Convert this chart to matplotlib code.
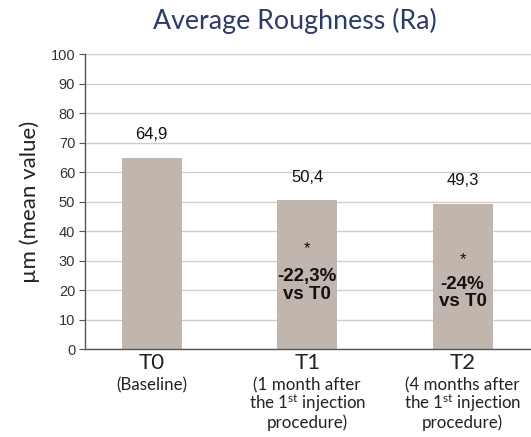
import matplotlib
matplotlib.use("Agg")
import matplotlib.pyplot as plt

categories = ["T0", "T1", "T2"]
subtitles = [
    "(Baseline)",
    "(1 month after\nthe 1$^{\\mathrm{st}}$ injection\nprocedure)",
    "(4 months after\nthe 1$^{\\mathrm{st}}$ injection\nprocedure)",
]
values = [64.9, 50.4, 49.3]
value_labels = ["64,9", "50,4", "49,3"]
change_labels = ["", "-22,3%\nvs T0", "-24%\nvs T0"]
change_y = [None, 21.5, 19.0]
star_y = [None, 34.0, 30.5]

BAR_COLOR = "#c0b6ad"
TITLE_COLOR = "#2c3a6e"

plt.rcParams["mathtext.fontset"] = "custom"
plt.rcParams["mathtext.rm"] = "Lato"
plt.rcParams["mathtext.it"] = "Lato:italic"
plt.rcParams["mathtext.bf"] = "Lato:bold"

fig = plt.figure(figsize=(5.31, 4.37), dpi=100)
ax = fig.add_axes([0.160, 0.201, 0.84, 0.675])

x = list(range(len(categories)))
ax.bar(x, values, width=0.386, color=BAR_COLOR, zorder=2)

ax.set_ylim(0, 100)
ax.set_xlim(-0.43, 2.44)
ax.set_yticks(range(0, 101, 10))
ax.yaxis.grid(True, color="#cfcfcf", linewidth=1.0, zorder=0)
ax.set_axisbelow(True)
for side in ("top", "right"):
    ax.spines[side].set_visible(False)
ax.spines["left"].set_color("#555555")
ax.spines["bottom"].set_color("#555555")
ax.spines["left"].set_linewidth(1.0)
ax.spines["bottom"].set_linewidth(1.0)
ax.tick_params(axis="y", length=4, color="#555555", labelsize=10.5,
               labelcolor="#333333", pad=3)
for lbl in ax.get_yticklabels():
    lbl.set_family("Liberation Sans")

ax.set_xticks(x)
ax.set_xticklabels(categories, fontsize=16, family="Lato", color="#222222")
ax.tick_params(axis="x", length=0, pad=3)

for xi, lab in zip(x, subtitles):
    ax.annotate(lab, xy=(xi, 0), xycoords=("data", "axes fraction"),
                xytext=(0, -20), textcoords="offset points",
                ha="center", va="top", fontsize=12.2, family="Lato",
                color="#222222", linespacing=0.98)

for xi, v, lab in zip(x, values, value_labels):
    ax.annotate(lab, xy=(xi, v), xytext=(0, 11), textcoords="offset points",
                ha="center", va="bottom", fontsize=12,
                family="Liberation Sans", color="#111111")

for xi, lab, sy, cy in zip(x, change_labels, star_y, change_y):
    if not lab:
        continue
    ax.text(xi, sy, "*", ha="center", va="center", fontsize=12,
            family="Liberation Sans", color="#111111")
    ax.text(xi, cy, lab, ha="center", va="center", fontsize=13.5,
            family="Liberation Sans", fontweight="bold", color="#111111",
            linespacing=1.05)

ax.set_ylabel("µm (mean value)", fontsize=16, family="Lato",
              color="#222222", labelpad=8)

fig.text(0.556, 0.953, "Average Roughness (Ra)", ha="center", va="center",
         fontsize=19.3, family="Lato", color=TITLE_COLOR)

fig.savefig("out.png", dpi=100)
